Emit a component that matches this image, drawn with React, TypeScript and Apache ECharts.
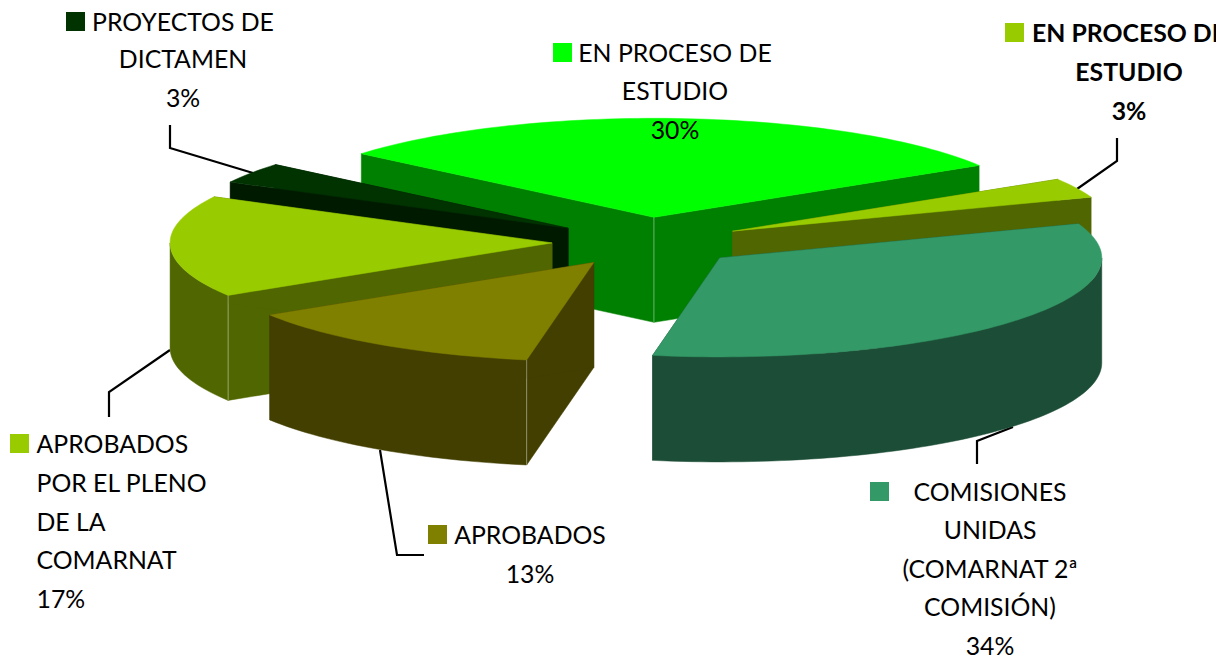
import React, { useEffect, useRef } from "react";
import * as echarts from "echarts";

// Data, clockwise from the back-left edge of the largest back slice
const categories = [
  "EN PROCESO DE ESTUDIO (verde)",
  "EN PROCESO DE ESTUDIO",
  "COMISIONES UNIDAS (COMARNAT 2ª COMISIÓN)",
  "APROBADOS",
  "APROBADOS POR EL PLENO DE LA COMARNAT",
  "PROYECTOS DE DICTAMEN",
];
const values = [30.1, 3.2, 33.4, 13.3, 16.6, 3.4];
const percentLabels = ["30%", "3%", "34%", "13%", "17%", "3%"];
const labelLines = [
  ["EN PROCESO DE", "ESTUDIO"],
  ["EN PROCESO DE", "ESTUDIO"],
  ["COMISIONES", "UNIDAS", "(COMARNAT 2ª", "COMISIÓN)"],
  ["APROBADOS"],
  ["APROBADOS", "POR EL PLENO", "DE LA", "COMARNAT"],
  ["PROYECTOS DE", "DICTAMEN"],
];

// Styles and layout
const topColors = ["#00ff00", "#99cc00", "#339966", "#808000", "#99cc00", "#003300"];
const wallColors = ["#008000", "#506600", "#1c4d36", "#423f00", "#506600", "#001a00"];
const drawOrder = [0, 1, 5, 4, 3, 2];
const CX = 647;
const CY = 242;
const RX = 382;
const RY = 99;
const DEPTH = 105;
const EXPLODE_X = 95;
const EXPLODE_Y = 24.75;
const START_ANGLE = -50;
const FONT = "Lato";
const FONT_SIZE = 24.8;

const labelLayout = [
  { x: 675, ys: [52, 90, 129], swatch: [553, 43] },
  { x: 1129, ys: [32, 71, 110], swatch: [1005, 23], bold: true },
  { x: 990, ys: [491, 529, 568, 606, 645], swatch: [870, 482] },
  { x: 530, ys: [534, 573], swatch: [428, 525] },
  { x: 36.5, ys: [443, 482, 521, 559, 598], swatch: [10, 434], left: true },
  { x: 183, ys: [21, 58, 97], swatch: [66, 12] },
];
const leaders = [
  [[170, 125], [170, 148], [253, 173]],
  [[1117, 138], [1117, 161], [1077, 189]],
  [[977, 464], [977, 441], [1013, 427]],
  [[380, 450], [397, 555], [424, 555]],
  [[109, 417], [109, 392], [170, 350]],
];

const total = values.reduce((a, b) => a + b, 0);
const slices = values.map((v, i) => {
  const before = values.slice(0, i).reduce((a, b) => a + b, 0);
  return { index: i, start: START_ANGLE + (before / total) * 360, end: START_ANGLE + ((before + v) / total) * 360 };
});

function renderSlice(_params: any, api: any) {
  const index = api.value(0);
  const start = api.value(1);
  const end = api.value(2);
  const rad = (d: number) => (d * Math.PI) / 180;
  const mid = (start + end) / 2;
  const ox = CX + EXPLODE_X * Math.sin(rad(mid));
  const oy = CY - EXPLODE_Y * Math.cos(rad(mid));
  const pt = (a: number, drop = 0) => [ox + RX * Math.sin(rad(a)), oy - RY * Math.cos(rad(a)) + drop];
  const arc = (a: number, b: number, drop = 0) => {
    const n = Math.max(2, Math.ceil(Math.abs(b - a) / 1.5));
    const out: number[][] = [];
    for (let i = 0; i <= n; i++) out.push(pt(a + ((b - a) * i) / n, drop));
    return out;
  };
  const wall = wallColors[index];
  const top = topColors[index];
  const poly = (points: number[][], fill: string) => ({
    type: "polygon",
    shape: { points },
    style: { fill, stroke: fill, lineWidth: 0.5 },
  });
  const seam = (x: number, y: number) => ({
    type: "line",
    shape: { x1: x, y1: y, x2: x, y2: y + DEPTH },
    style: { stroke: "rgba(255,255,255,0.4)", lineWidth: 1 },
  });
  const children: any[] = [];
  for (const a of [start, end]) {
    const p = pt(a);
    children.push(poly([[ox, oy], p, [p[0], p[1] + DEPTH], [ox, oy + DEPTH]], wall));
  }
  const from = Math.max(start, 90);
  const to = Math.min(end, 270);
  if (to > from) {
    children.push(poly([...arc(from, to), ...arc(to, from, DEPTH)], wall));
  }
  if (start > 90 && start < 270) {
    const p = pt(start);
    children.push(seam(p[0], p[1]));
  }
  if (start < 0 && end > 0) children.push(seam(ox, oy));
  children.push(poly([[ox, oy], ...arc(start, end)], top));
  return { type: "group", children };
}

function buildGraphics() {
  const elements: any[] = [];
  leaders.forEach((points) => {
    elements.push({
      type: "polyline",
      z: 1,
      shape: { points },
      style: { stroke: "#000000", lineWidth: 2.2, fill: "none" },
    });
  });
  labelLines.forEach((lines, i) => {
    const layout: any = labelLayout[i];
    elements.push({
      type: "rect",
      z: 5,
      shape: { x: layout.swatch[0], y: layout.swatch[1], width: 19, height: 19 },
      style: { fill: topColors[i] },
    });
    [...lines, percentLabels[i]].forEach((text, k) => {
      elements.push({
        type: "text",
        z: 5,
        x: layout.x,
        y: layout.ys[k],
        style: {
          text,
          fill: "#000000",
          font: `${layout.bold ? "bold " : ""}${FONT_SIZE}px ${FONT}`,
          textAlign: layout.left ? "left" : "center",
          textVerticalAlign: "middle",
        },
      });
    });
  });
  return elements;
}

export default function App() {
  const ref = useRef<HTMLDivElement>(null);
  useEffect(() => {
    document.body.style.margin = "0";
    document.body.style.background = "#ffffff";
    const chart = echarts.init(ref.current!, undefined, { renderer: "svg" });
    chart.setOption({
      animation: false,
      backgroundColor: "#ffffff",
      series: [
        {
          type: "custom",
          name: "Proporción",
          coordinateSystem: "none",
          silent: true,
          z: 2,
          renderItem: renderSlice,
          data: drawOrder.map((i) => ({
            name: categories[i],
            value: [slices[i].index, slices[i].start, slices[i].end],
          })),
        },
      ],
      graphic: { elements: buildGraphics() },
    });
    return () => chart.dispose();
  }, []);
  return (
    <div style={{ width: 1230, height: 658, background: "#fff", overflow: "hidden" }}>
      <div ref={ref} style={{ width: 1216, height: 658 }} />
    </div>
  );
}
